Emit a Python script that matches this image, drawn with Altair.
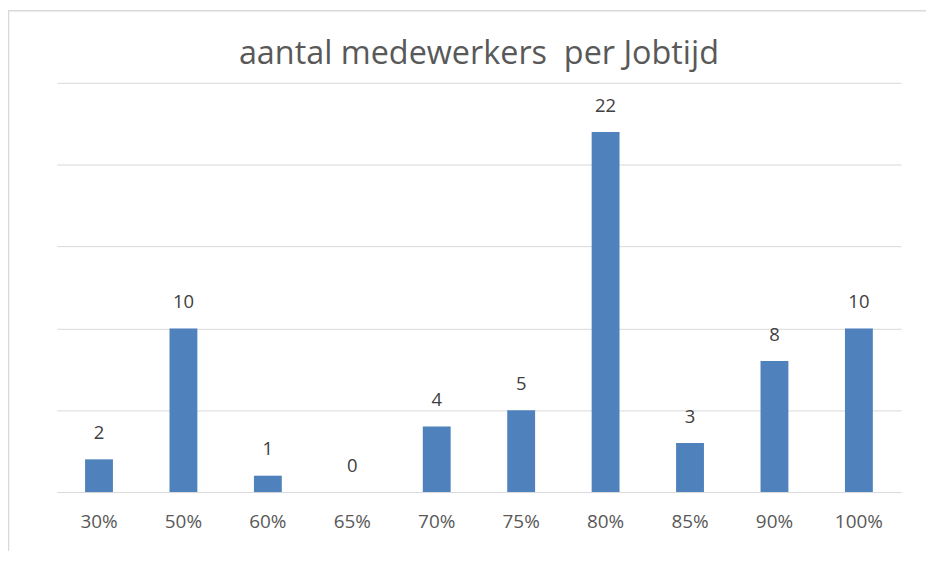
import altair as alt
import pandas as pd

categories = ["30%", "50%", "60%", "65%", "70%", "75%", "80%", "85%", "90%", "100%"]
values = [2, 10, 1, 0, 4, 5, 22, 3, 8, 10]

df = pd.DataFrame({"Jobtijd": categories, "aantal": values})

FONT = "Open Sans"

base = alt.Chart(df)

bars = base.mark_bar(color="#4f81bd").encode(
    x=alt.X("Jobtijd:N", sort=categories,
            scale=alt.Scale(paddingInner=0.67, paddingOuter=0.335),
            axis=alt.Axis(title=None, labelAngle=0, ticks=False, domain=False,
                          labelFont=FONT, labelFontSize=19, labelColor="#595959",
                          labelPadding=21, grid=False)),
    y=alt.Y("aantal:Q", scale=alt.Scale(domain=[0, 25], nice=False),
            axis=alt.Axis(title=None, labels=False, ticks=False, domain=False,
                          values=[0, 5, 10, 15, 20, 25], grid=True,
                          gridColor="#d9d9d9", gridWidth=1)),
)

labels = base.mark_text(baseline="bottom", dy=-16.5, font=FONT, fontSize=18.5,
                        color="#404040").encode(
    x=alt.X("Jobtijd:N", sort=categories),
    y=alt.Y("aantal:Q"),
    text=alt.Text("aantal:Q"),
)

frame = alt.Chart(pd.DataFrame({"f": [0]})).mark_rect(
    fill=None, stroke="#d9d9d9", strokeWidth=1.5
).encode(
    x=alt.value(-48.5), x2=alt.value(900),
    y=alt.value(-72.5), y2=alt.value(520),
)

chart = alt.layer(frame, bars, labels).properties(
    width=848, height=411,
    title=alt.TitleParams("aantal medewerkers\u00a0 per Jobtijd", font=FONT, fontSize=32.5,
                          fontWeight="normal", color="#595959", offset=-61,
                          anchor="middle", frame="group"),
    autosize=alt.AutoSizeParams(type="none"),
    padding={"left": 49, "top": 74, "right": 25, "bottom": 58},
).configure(background="white").configure_view(stroke=None)

chart.save("out.html", embed_options={"renderer": "svg", "actions": False})
